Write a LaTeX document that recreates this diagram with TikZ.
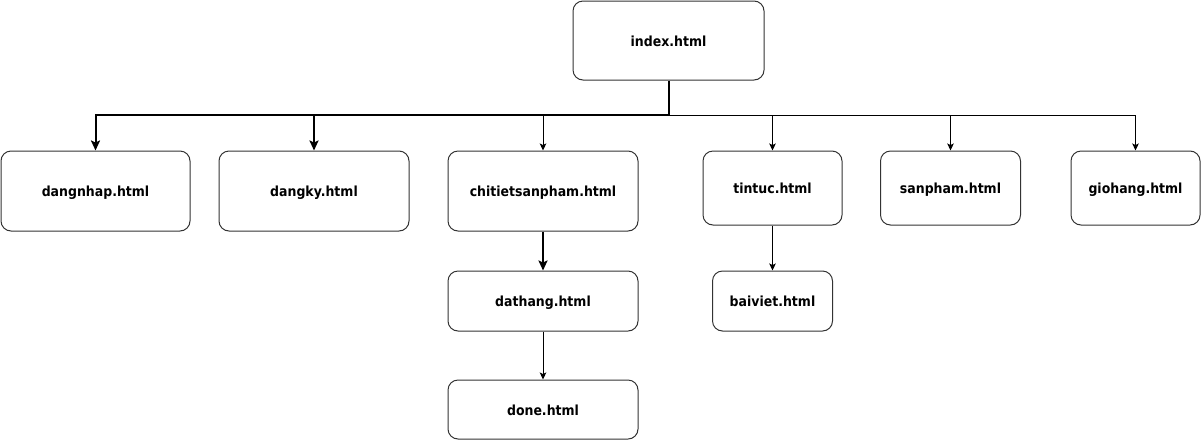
\documentclass[tikz,border=0pt]{standalone}
\usepackage{fontspec}
\setmainfont{DejaVu Sans}[FakeStretch=0.9]
\usetikzlibrary{arrows.meta}
\begin{document}
\begin{tikzpicture}[x=1pt,y=-1pt,
  page/.style={draw=black!80, line width=1pt, rounded corners=10pt, fill=white,
    font=\fontsize{13.9}{16}\selectfont\bfseries, inner sep=0pt,
    text height=11.5pt, text depth=0pt},
  thickcon/.style={line width=2pt, -{Stealth[length=10pt,width=9pt,inset=2pt]}},
  thincon/.style={line width=1pt, -{Stealth[length=7pt,width=6.5pt,inset=1.5pt]}},
  thickline/.style={line width=2pt},
  thinline/.style={line width=1pt}]
\useasboundingbox (0,0) rectangle (1201,440);
\node[page, minimum width=191pt, minimum height=79pt] (index) at (668.5,40.5) {index.html};
\node[page, minimum width=189pt, minimum height=80pt] (dangnhap) at (95.5,191) {dangnhap.html};
\node[page, minimum width=190pt, minimum height=80pt] (dangky) at (314,191) {dangky.html};
\node[page, minimum width=190pt, minimum height=80pt] (chitiet) at (543,191) {chitietsanpham.html};
\node[page, minimum width=139pt, minimum height=74pt] (tintuc) at (772.5,188) {tintuc.html};
\node[page, minimum width=140pt, minimum height=74pt] (sanpham) at (950.5,188) {sanpham.html};
\node[page, minimum width=129pt, minimum height=74pt] (giohang) at (1135.5,188) {giohang.html};
\node[page, minimum width=190pt, minimum height=60pt] (dathang) at (543,301) {dathang.html};
\node[page, minimum width=120pt, minimum height=60pt] (baiviet) at (772.5,301) {baiviet.html};
\node[page, minimum width=190pt, minimum height=59pt] (done) at (543,409.5) {done.html};
\coordinate (bus) at (668.5,115);
\coordinate (busr) at (668.5,115.5);
% thin connectors
\draw[thincon] (bus) -| (chitiet.north);
\draw[thincon] (busr) -| (tintuc.north);
\draw[thincon] (busr) -| (sanpham.north);
\draw[thincon] (busr) -| (giohang.north);
\draw[thincon] (dathang.south) -- (done.north);
\draw[thincon] (tintuc.south) -- (baiviet.north);
% thick connectors
\draw[thickline] (index.south) -- (bus);
\draw[thickcon] (bus) -| (dangnhap.north);
\draw[thickcon] (bus) -| (dangky.north);
\draw[thickcon] (chitiet.south) -- (dathang.north);
\end{tikzpicture}
\end{document}
